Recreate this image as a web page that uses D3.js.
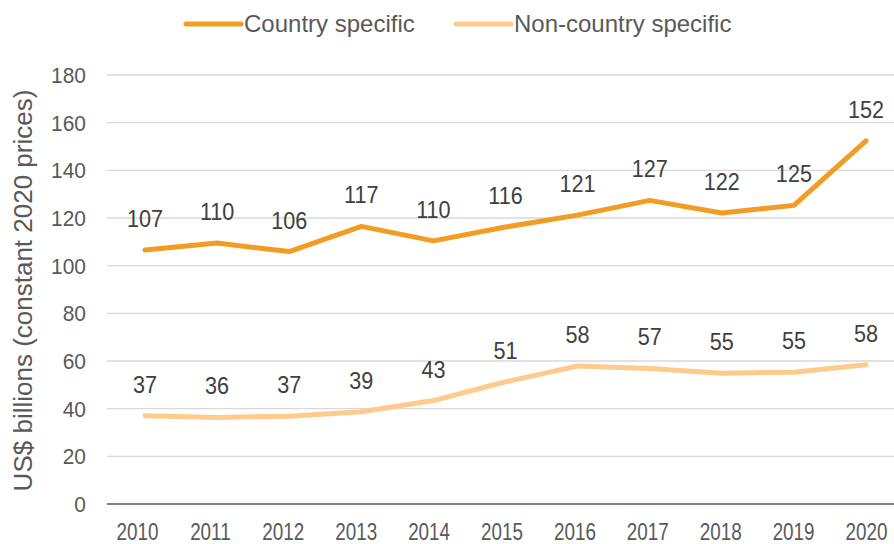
<!DOCTYPE html>
<html>
<head>
<meta charset="utf-8">
<script src="https://cdn.jsdelivr.net/npm/d3@7"></script>
<style>
  html, body { margin: 0; padding: 0; background: #fff; }
  svg { display: block; font-family: Arial, "Liberation Sans", sans-serif; }
</style>
</head>
<body>
<svg id="chart" width="894" height="544"></svg>
<script>
const years = ["2010","2011","2012","2013","2014","2015","2016","2017","2018","2019","2020"];
const countrySpecific = [106.6, 109.5, 105.9, 116.5, 110.4, 116.2, 121.2, 127.4, 122.1, 125.3, 152.4];
const nonCountrySpecific = [37.0, 36.3, 36.8, 38.7, 43.4, 51.3, 57.9, 56.9, 54.9, 55.3, 58.4];
const yTicks = [0, 20, 40, 60, 80, 100, 120, 140, 160, 180];
const seriesNames = ["Country specific", "Non-country specific"];
const seriesColors = ["#F39C23", "#FFCB8C"];

const svg = d3.select("#chart");
const W = 894, H = 544;
const plotLeft = 107, plotTop = 75, plotBottom = 504;

const x = d3.scalePoint().domain(years).range([145, 866]);
const xLab = d3.scalePoint().domain(years).range([137, 866]);
const y = d3.scaleLinear().domain([0, 180]).range([plotBottom, plotTop]);

// gridlines
svg.append("g").selectAll("line").data(yTicks.filter(d => d > 0)).join("line")
  .attr("x1", plotLeft).attr("x2", W)
  .attr("y1", d => y(d)).attr("y2", d => y(d))
  .attr("stroke", "#d9d9d9").attr("stroke-width", 1.3);

// y tick labels
const yAxis = d3.axisLeft(y).tickValues(yTicks).tickSize(0).tickPadding(0);
const gy = svg.append("g").attr("transform", "translate(86,0)").call(yAxis);
gy.select(".domain").remove();
gy.selectAll(".tick text").attr("font-size", 22.5).attr("fill", "#595959")
  .attr("x", 0).attr("dy", "0.34em")
  .attr("transform", "scale(0.93,1)")
  .attr("font-family", "Arial, 'Liberation Sans', sans-serif");

// x axis
const xAxis = d3.axisBottom(xLab).tickSize(0).tickPadding(0);
const gx = svg.append("g").attr("transform", `translate(0,${plotBottom})`).call(xAxis);
gx.select(".domain").remove();
gx.selectAll(".tick text").attr("font-size", 23).attr("fill", "#595959")
  .attr("dy", 0).attr("y", 0)
  .attr("transform", "translate(0,36) scale(0.82,1)")
  .attr("font-family", "Arial, 'Liberation Sans', sans-serif");
svg.append("line").attr("x1", plotLeft).attr("x2", W)
  .attr("y1", plotBottom).attr("y2", plotBottom)
  .attr("stroke", "#595959").attr("stroke-width", 1.5);

// y axis title
svg.append("text")
  .attr("transform", `translate(32,${(plotTop + plotBottom) / 2 + 1}) rotate(-90)`)
  .attr("text-anchor", "middle")
  .attr("font-size", 26).attr("fill", "#595959")
  .text("US$ billions (constant 2020 prices)");

// lines
const line = d3.line().x((d, i) => x(years[i])).y(d => y(d));
const allSeries = [countrySpecific, nonCountrySpecific];
allSeries.forEach((vals, si) => {
  svg.append("path").datum(vals)
    .attr("d", line)
    .attr("fill", "none")
    .attr("stroke", seriesColors[si])
    .attr("stroke-width", 5)
    .attr("stroke-linejoin", "round")
    .attr("stroke-linecap", "round");
  svg.append("g").selectAll("g").data(vals).join("g")
    .attr("transform", (d, i) => `translate(${x(years[i])},${y(d) - 23}) scale(0.94,1)`)
    .append("text")
    .attr("text-anchor", "middle")
    .attr("font-size", 23).attr("fill", "#404040")
    .text(d => d3.format(".0f")(d));
});

// legend
const legendX = [186, 456];
seriesNames.forEach((name, i) => {
  const g = svg.append("g").attr("transform", `translate(${legendX[i]},24)`);
  g.append("line").attr("x1", 0).attr("x2", 55).attr("y1", 0).attr("y2", 0)
    .attr("stroke", seriesColors[i]).attr("stroke-width", 5).attr("stroke-linecap", "round");
  g.append("text").attr("x", 58).attr("y", 0).attr("dy", "0.35em")
    .attr("font-size", 24).attr("fill", "#595959").text(name);
});
</script>
</body>
</html>
